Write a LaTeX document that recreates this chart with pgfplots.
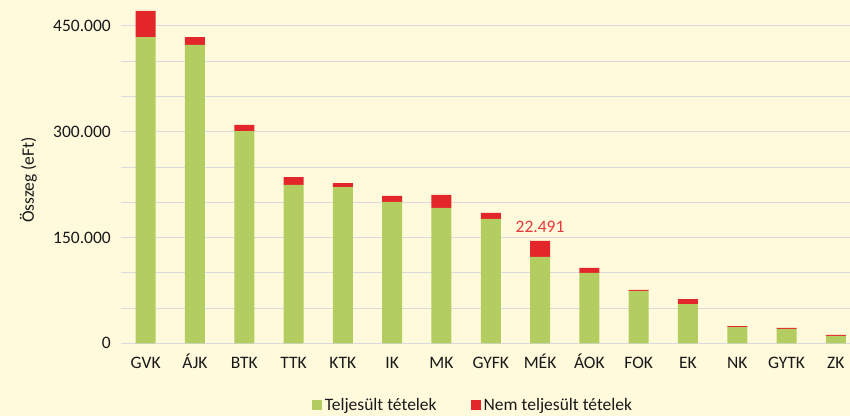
\documentclass[border=0pt]{standalone}
\usepackage{pgfplots}
\pgfplotsset{compat=1.18}
\usepackage{fontspec}
\setmainfont{Carlito}
\definecolor{bgc}{HTML}{FFFADC}
\definecolor{grn}{HTML}{B3CD60}
\definecolor{rd}{HTML}{E3262A}
\definecolor{lblred}{HTML}{E8383D}
\definecolor{gridc}{HTML}{D9D9DE}
\newcommand\myfont{\fontsize{17.5bp}{21bp}\selectfont}
\begin{document}
\begin{tikzpicture}
\path[use as bounding box, fill=bgc] (0,0) rectangle (850bp,416bp);
\begin{axis}[
  at={(121bp,72.7bp)}, anchor=south west,
  scale only axis, width=729bp, height=343.3bp,
  xmin=-0.5, xmax=14.287, ymin=0, ymax=486800,
  ybar stacked, bar width=20bp,
  axis line style={draw=none},
  major tick length=0, minor tick length=0,
  xtick={0,...,14},
  xticklabels={GVK,ÁJK,BTK,TTK,KTK,IK,MK,GYFK,MÉK,ÁOK,FOK,EK,NK,GYTK,ZK},
  ytick={0,150000,300000,450000},
  minor ytick={50000,100000,200000,250000,350000,400000},
  ymajorgrids, yminorgrids,
  major grid style={draw=gridc, line width=0.9bp},
  minor grid style={draw=gridc, line width=0.9bp},
  scaled y ticks=false,
  /pgf/number format/.cd, fixed, 1000 sep={.}, assume math mode=true,
  /pgfplots/.cd,
  tick label style={font=\myfont, text=black!90},
  xticklabel style={anchor=base, yshift=-25bp},
  yticklabel style={anchor=east, inner sep=0pt, xshift=-10bp},
  ylabel={Összeg (eFt)},
  ylabel style={at={(axis description cs:-0.115,0.4757)}, anchor=south, inner sep=0pt, font=\myfont, text=black!90},
  legend columns=2,
  legend style={at={(axis description cs:0.4835,-0.18)}, anchor=center, draw=none, fill=none, font=\myfont, text=black!90,
    /tikz/every even column/.append style={column sep=31bp},
    nodes={inner xsep=3bp}},
  legend image code/.code={\path[#1, draw=none] (0bp,-5bp) rectangle (10bp,5bp);},
]
\addplot[fill=grn, draw=none] coordinates {
(0,434300) (1,423000) (2,301000) (3,224500) (4,221600) (5,200400) (6,191900)
(7,176300) (8,122600) (9,99700) (10,74200) (11,55700) (12,23100) (13,20300) (14,10400)};
\addlegendentry{Teljesült tételek}
\addplot[fill=rd, draw=none] coordinates {
(0,36900) (1,11300) (2,8600) (3,11300) (4,5700) (5,8500) (6,18400)
(7,8500) (8,22491) (9,7100) (10,1400) (11,7100) (12,1400) (13,1400) (14,1400)};
\addlegendentry{Nem teljesült tételek}
\node[text=lblred, anchor=base, font=\myfont, yshift=8bp] at (axis cs:8,145091) {22.491};
\end{axis}
\end{tikzpicture}
\end{document}
